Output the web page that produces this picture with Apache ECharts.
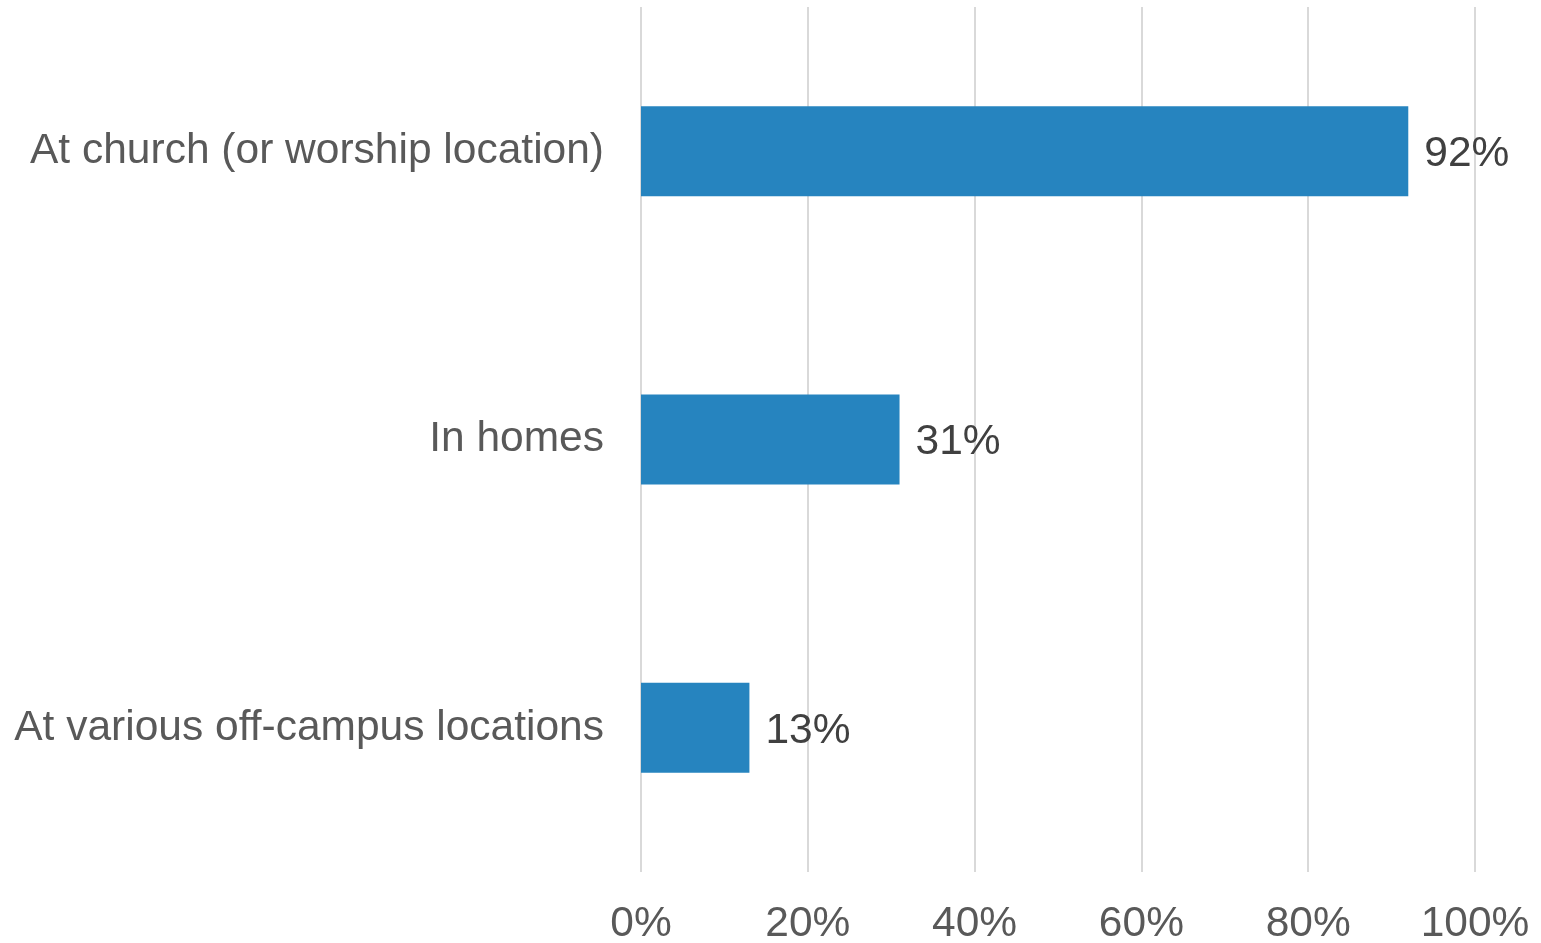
<!DOCTYPE html>
<html>
<head>
<meta charset="utf-8">
<script src="https://cdn.jsdelivr.net/npm/echarts@6/dist/echarts.min.js"></script>
<style>
html,body{margin:0;padding:0;background:#fff;}
#c{width:1541px;height:943px;}
</style>
</head>
<body>
<div id="c"></div>
<script>
const categories = ["At church (or worship location)", "In homes", "At various off-campus locations"];
const values = [92, 31, 13];
const xTicks = [0, 20, 40, 60, 80, 100];

const chart = echarts.init(document.getElementById('c'), null, {renderer: 'canvas'});
chart.setOption({
  animation: false,
  backgroundColor: '#ffffff',
  grid: {left: 641, right: 66, top: 7, bottom: 71, containLabel: false, outerBoundsMode: 'none'},
  xAxis: {
    type: 'value',
    min: xTicks[0],
    max: xTicks[xTicks.length - 1],
    interval: 20,
    axisLine: {show: false},
    axisTick: {show: false},
    splitLine: {show: true, lineStyle: {color: '#d9d9d9', width: 2}},
    axisLabel: {
      formatter: v => v + '%',
      fontFamily: 'Liberation Sans, Arial, sans-serif',
      fontSize: 42.5,
      color: '#595959',
      margin: 31
    }
  },
  yAxis: {
    type: 'category',
    data: categories,
    inverse: true,
    axisLine: {show: false},
    axisTick: {show: false},
    axisLabel: {
      fontFamily: 'Liberation Sans, Arial, sans-serif',
      fontSize: 42.5,
      color: '#595959',
      margin: 37,
      padding: [14, 0, 0, 0]
    }
  },
  series: [{
    type: 'bar',
    data: values,
    barWidth: 90,
    itemStyle: {color: '#2684BF'},
    label: {
      show: true,
      position: 'right',
      distance: 16,
      offset: [0, 3],
      formatter: p => p.value + '%',
      fontFamily: 'Liberation Sans, Arial, sans-serif',
      fontSize: 42.5,
      color: '#404040'
    }
  }]
});
</script>
</body>
</html>
